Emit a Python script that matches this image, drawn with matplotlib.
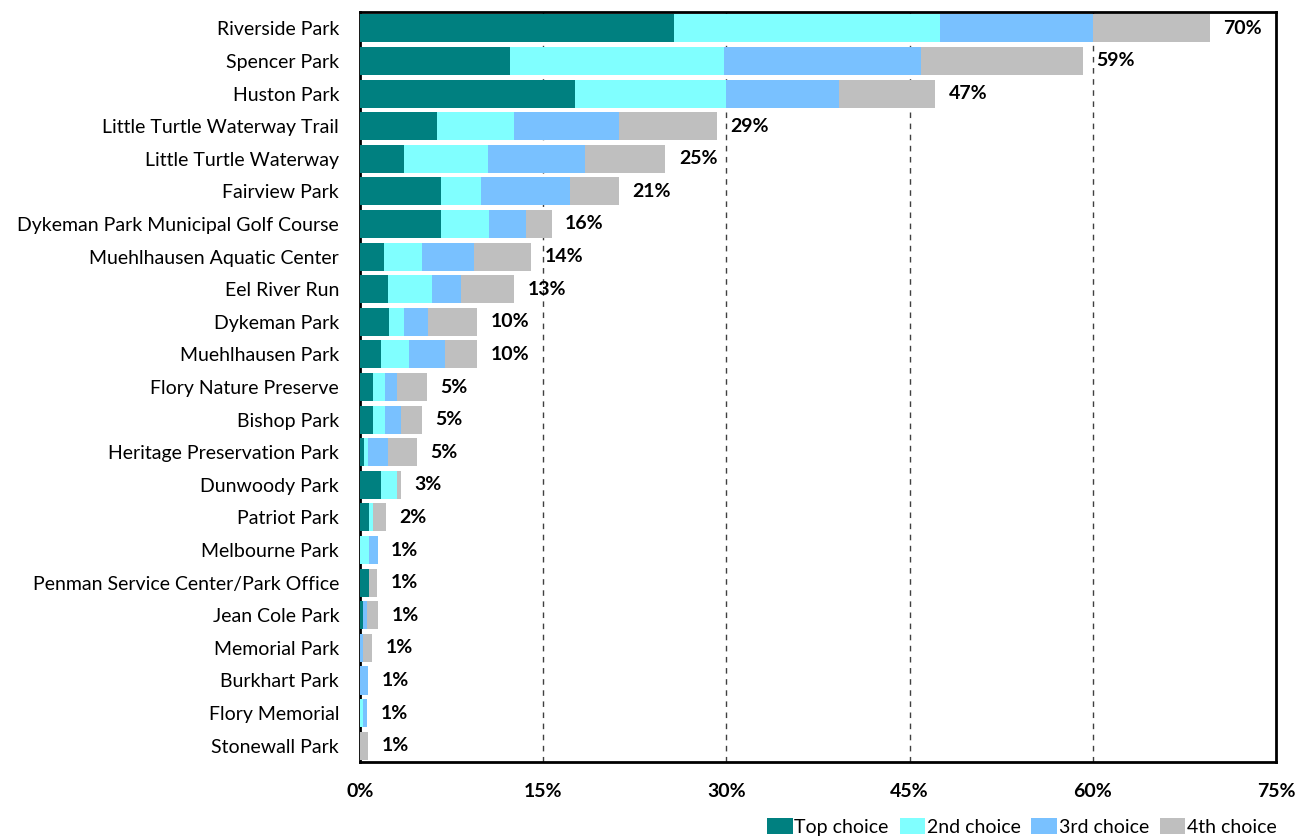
import matplotlib
matplotlib.use("Agg")
import matplotlib.pyplot as plt
import numpy as np

parks = ["Riverside Park", "Spencer Park", "Huston Park", "Little Turtle Waterway Trail",
         "Little Turtle Waterway", "Fairview Park", "Dykeman Park Municipal Golf Course",
         "Muehlhausen Aquatic Center", "Eel River Run", "Dykeman Park", "Muehlhausen Park",
         "Flory Nature Preserve", "Bishop Park", "Heritage Preservation Park", "Dunwoody Park",
         "Patriot Park", "Melbourne Park", "Penman Service Center/Park Office", "Jean Cole Park",
         "Memorial Park", "Burkhart Park", "Flory Memorial", "Stonewall Park"]
top_choice = [25.7, 12.3, 17.6, 6.3, 3.6, 6.6, 6.6, 2.0, 2.3, 2.4, 1.7, 1.06, 1.06, 0.33, 1.7,
              0.74, 0.0, 0.7, 0.25, 0.0, 0.0, 0.0, 0.0]
second_choice = [21.8, 17.5, 12.4, 6.3, 6.9, 3.3, 4.0, 3.1, 3.6, 1.2, 2.3, 1.0, 1.0, 0.33, 1.3,
                 0.33, 0.7, 0.0, 0.0, 0.0, 0.0, 0.25, 0.0]
third_choice = [12.5, 16.1, 9.2, 8.6, 7.9, 7.3, 3.0, 4.2, 2.35, 2.0, 3.0, 1.0, 1.3, 1.63, 0.0,
                0.0, 0.75, 0.0, 0.33, 0.25, 0.66, 0.33, 0.0]
fourth_choice = [9.6, 13.3, 7.9, 8.0, 6.6, 4.0, 2.1, 4.7, 4.35, 4.0, 2.6, 2.4, 1.7, 2.35, 0.35,
                 1.07, 0.0, 0.7, 0.9, 0.75, 0.0, 0.0, 0.66]
total_labels = ["70%", "59%", "47%", "29%", "25%", "21%", "16%", "14%", "13%", "10%", "10%",
                "5%", "5%", "5%", "3%", "2%", "1%", "1%", "1%", "1%", "1%", "1%", "1%"]
series_names = ["Top choice", "2nd choice", "3rd choice", "4th choice"]
colors = ["#008080", "#80FFFF", "#79C1FF", "#BFBFBF"]
xticks = [0, 15, 30, 45, 60, 75]

plt.rcParams['font.family'] = ['Lato', 'DejaVu Sans']

fig = plt.figure(figsize=(13.08, 8.39), dpi=100)
ax = fig.add_axes([360/1308, 1 - 762/839, (1276-360)/1308, (762-12)/839])

y = np.arange(len(parks))
left = np.zeros(len(parks))
handles = []
for vals, name, c in zip([top_choice, second_choice, third_choice, fourth_choice], series_names, colors):
    v = np.array(vals)
    h = ax.barh(y, v, left=left, height=0.86, color=c, label=name, zorder=3)
    handles.append(h)
    left = left + v

for yi, tot, lab in zip(y, left, total_labels):
    ax.text(tot + 1.1, yi, lab, va='center', ha='left', fontsize=14, fontweight='bold', zorder=4)

ax.set_xlim(0, 75)
ax.set_ylim(len(parks) - 0.5, -0.5)
ax.set_yticks(y)
ax.set_yticklabels(parks, fontsize=14)
ax.set_xticks(xticks)
ax.set_xticklabels([f"{t}%" for t in xticks], fontsize=14, fontweight='bold')
ax.tick_params(axis='both', length=0)
ax.tick_params(axis='x', pad=15)
ax.tick_params(axis='y', pad=15)
for t in [15, 30, 45, 60]:
    ax.axvline(t, color='#404040', linestyle=(0, (4, 4)), linewidth=1.0, zorder=2)
for s in ax.spines.values():
    s.set_color('black')
    s.set_linewidth(2.0)

fig.legend(handles=handles, labels=series_names, loc='lower right', ncol=4,
           bbox_to_anchor=(1294/1308, -0.017), frameon=False, fontsize=14,
           handlelength=1.3, handleheight=0.85, handletextpad=0.1, columnspacing=0.55)

fig.savefig("out.png", dpi=100)
